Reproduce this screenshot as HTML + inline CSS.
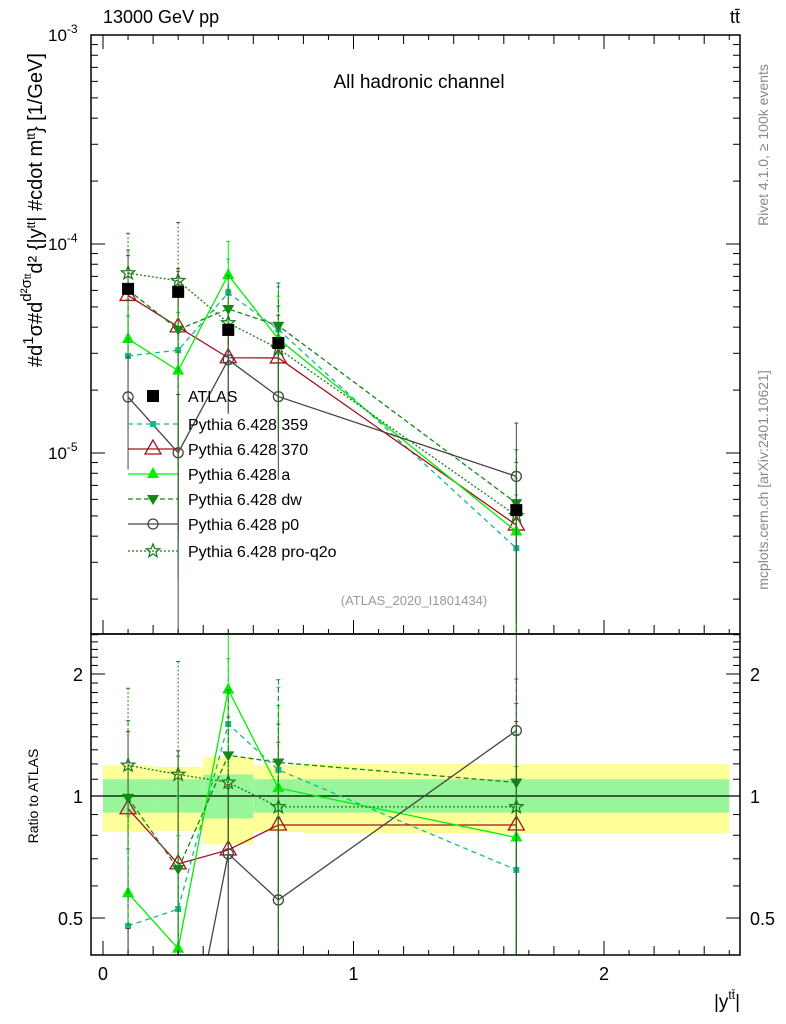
<!DOCTYPE html>
<html><head><meta charset="utf-8">
<style>
html,body{margin:0;background:#fff;overflow:hidden;width:786px;height:1024px;}
svg{display:block;font-family:"Liberation Sans",sans-serif;}
</style></head>
<body>
<svg id="c" width="786" height="1024" viewBox="0 0 786 1024"></svg>
<script>
const xVals=[0.1,0.3,0.5,0.7,1.65];
const binLo=[0,0.2,0.4,0.6,0.8];
const binHi=[0.2,0.4,0.6,0.8,2.5];
const atlas=[6.1e-5,5.9e-5,3.88e-5,3.36e-5,5.33e-6];
const bandYellowUp=[1.19,1.18,1.25,1.19,1.2];
const bandYellowDn=[0.815,0.82,0.76,0.815,0.81];
const bandGreenUp=[1.1,1.1,1.13,1.1,1.1];
const bandGreenDn=[0.91,0.91,0.88,0.91,0.91];
const r359=[0.478,0.526,1.505,1.16,0.657];
const r370=[0.93,0.68,0.736,0.848,0.848];
const rA=[0.576,0.42,1.83,1.046,0.79];
const rDW=[0.99,0.66,1.26,1.21,1.08];
const rP0=[0.304,0.17,0.72,0.554,1.45];
const rQ2O=[1.19,1.13,1.08,0.94,0.94];
const relErr=[0.55,0.9,0.45,0.6,0.8];
const legendLabels=["ATLAS","Pythia 6.428 359","Pythia 6.428 370","Pythia 6.428 a","Pythia 6.428 dw","Pythia 6.428 p0","Pythia 6.428 pro-q2o"];

const NS="http://www.w3.org/2000/svg";
const svg=document.getElementById('c');
function el(t,a,p){const e=document.createElementNS(NS,t);for(const k in a)e.setAttribute(k,a[k]);(p||svg).appendChild(e);return e;}
const L=91,R=740,T=35,M=634,B=955;
const X=v=>103+v*250.5;
const Yt=v=>35-(Math.log10(v)+3)*209;
const Yr=r=>796-Math.log2(r)*122;

const defs=el('defs',{});
const c1=el('clipPath',{id:'ct'},defs);el('rect',{x:L,y:T,width:R-L,height:M-T},c1);
const c2=el('clipPath',{id:'cr'},defs);el('rect',{x:L,y:M,width:R-L,height:B-M},c2);

const bands=el('g',{'clip-path':'url(#cr)'});


for(let i=0;i<xVals.length;i++){
  const y=el('rect',{x:X(binLo[i]),y:Yr(bandYellowUp[i]),width:X(binHi[i])-X(binLo[i]),height:Yr(bandYellowDn[i])-Yr(bandYellowUp[i]),fill:'#ffff99'},bands);
  
  
  const g=el('rect',{x:X(binLo[i]),y:Yr(bandGreenUp[i]),width:X(binHi[i])-X(binLo[i]),height:Yr(bandGreenDn[i])-Yr(bandGreenUp[i]),fill:'#99f599'},bands);
  
  
}
el('line',{x1:L,x2:R,y1:Yr(1),y2:Yr(1),stroke:'#000','stroke-width':1.2});

function marker(g,type,x,y,col){
  const s=0.75;
  if(type==='sq')el('rect',{x:x-4*s,y:y-4*s,width:8*s,height:8*s,fill:col},g);
  else if(type==='bigsq')el('rect',{x:x-6,y:y-6,width:12,height:12,fill:col},g);
  else if(type==='tri')el('polygon',{points:`${x},${y-7} ${x-6},${y+4} ${x+6},${y+4}`,fill:col},g);
  else if(type==='otri')el('polygon',{points:`${x},${y-9} ${x-8},${y+5} ${x+8},${y+5}`,fill:'none',stroke:col,'stroke-width':1.3},g);
  else if(type==='dtri')el('polygon',{points:`${x},${y+6} ${x-6},${y-4} ${x+6},${y-4}`,fill:col},g);
  else if(type==='circ')el('circle',{cx:x,cy:y,r:5,fill:'none',stroke:col,'stroke-width':1.3},g);
  else if(type==='star'){let p=[];for(let k=0;k<10;k++){const a=-Math.PI/2+k*Math.PI/5,rr=k%2?3:7;p.push((x+rr*Math.cos(a)).toFixed(1)+','+(y+rr*Math.sin(a)).toFixed(1));}
    el('polygon',{points:p.join(' '),fill:'none',stroke:col,'stroke-width':1.3},g);}
}
const series=[
 {n:'pythia-359',r:r359,col:'#17b890',dash:'5,4',m:'sq'},
 {n:'pythia-370',r:r370,col:'#a0141e',dash:'',m:'otri'},
 {n:'pythia-a',r:rA,col:'#00f000',dash:'',m:'tri'},
 {n:'pythia-dw',r:rDW,col:'#12891a',dash:'5,3',m:'dtri'},
 {n:'pythia-p0',r:rP0,col:'#454545',dash:'',m:'circ'},
 {n:'pythia-pro-q2o',r:rQ2O,col:'#1b7d1b',dash:'2,2',m:'star'}
];
for(const [ci,Yf,isTop] of [['ct',Yt,true],['cr',Yr,false]]){
  for(const s of series){
    const g=el('g',{'clip-path':`url(#${ci})`});
    
    
    const vals=xVals.map((x,i)=>isTop?atlas[i]*s.r[i]:s.r[i]);
    vals.forEach((v,i)=>{const e=relErr[i];
      el('line',{x1:X(xVals[i]),x2:X(xVals[i]),y1:Yf(v*(1+e)),y2:Yf(Math.max(v*(1-e),1e-9)),stroke:s.col,'stroke-width':1,'stroke-dasharray':s.dash},g);
      el('line',{x1:X(xVals[i])-2,x2:X(xVals[i])+2,y1:Yf(v*(1+e)),y2:Yf(v*(1+e)),stroke:s.col},g);});
    el('polyline',{points:vals.map((v,i)=>X(xVals[i])+','+Yf(v)).join(' '),fill:'none',stroke:s.col,'stroke-width':1.3,'stroke-dasharray':s.dash},g);
    vals.forEach((v,i)=>marker(g,s.m,X(xVals[i]),Yf(v),s.col));
  }
}
const ga=el('g',{'clip-path':'url(#ct)'});


atlas.forEach((v,i)=>{const p=el('rect',{x:X(xVals[i])-6,y:Yt(v)-6,width:12,height:12,fill:'#000'},ga);
  
  });

el('rect',{x:L,y:T,width:R-L,height:M-T,fill:'none',stroke:'#000','stroke-width':1.5});
el('rect',{x:L,y:M,width:R-L,height:B-M,fill:'none',stroke:'#000','stroke-width':1.5});

for(let d=-6;d<=-3;d++)for(let k=1;k<10;k++){const v=k*Math.pow(10,d),y=Yt(v);if(y<T-0.5||y>M)continue;const len=k===1?14:7;
  el('line',{x1:L,x2:L+len,y1:y,y2:y,stroke:'#000'});el('line',{x1:R,x2:R-len,y1:y,y2:y,stroke:'#000'});}
[['-3',-3],['-4',-4],['-5',-5]].forEach(([s,d])=>{const t=el('text',{x:48,y:Yt(Math.pow(10,d))+6,'font-size':17});
  t.innerHTML='10<tspan dy="-8" font-size="12">'+s+'</tspan>';
  
  });
for(let v=0.4;v<2.6;v+=0.1){const y=Yr(v);if(y<M||y>B)continue;const major=[0.5,1,2].some(m=>Math.abs(m-v)<1e-6);const len=major?14:7;
  el('line',{x1:L,x2:L+len,y1:y,y2:y,stroke:'#000'});el('line',{x1:R,x2:R-len,y1:y,y2:y,stroke:'#000'});}
[['0.5',0.5],['1',1],['2',2]].forEach(([s,v])=>{
  const t1=el('text',{x:83,y:Yr(v)+7,'font-size':18,'text-anchor':'end'});t1.textContent=s;
  
  
  const t2=el('text',{x:750,y:Yr(v)+7,'font-size':18});t2.textContent=s;
  
  });
for(let i=0;i<=25;i++){const v=i/10,x=X(v);const len=i%10===0?14:(i%2===0?9:5);
  el('line',{x1:x,x2:x,y1:B,y2:B-len,stroke:'#000'});el('line',{x1:x,x2:x,y1:M,y2:M-len,stroke:'#000'});el('line',{x1:x,x2:x,y1:T,y2:T+len,stroke:'#000'});}
['0','1','2'].forEach((s,i)=>{const t=el('text',{x:X(i),y:980,'font-size':18,'text-anchor':'middle'});t.textContent=s;
  
  });

const lg=el('g',{});


const ly=[396,424,449,474,499,524,551];
legendLabels.forEach((s,i)=>{const y=ly[i];
  const e=el('g',{},lg);
  
  
  if(i===0)marker(e,'bigsq',153,y,'#000');
  else{const sr=series[i-1];el('line',{x1:128,x2:178,y1:y,y2:y,stroke:sr.col,'stroke-width':1.3,'stroke-dasharray':sr.dash},e);marker(e,sr.m,153,y,sr.col);}
  const t=el('text',{x:188,y:y+6,'font-size':16},e);t.textContent=s;});

function txt(x,y,s,attrs,name){const t=el('text',Object.assign({x:x,y:y},attrs));t.innerHTML=s;
  
  return t;}
txt(103,23,'13000 GeV pp',{'font-size':18},'collision-label');
txt(740,23,'tt&#772;',{'font-size':18,'text-anchor':'end'},'process-label');
txt(419,88,'All hadronic channel',{'font-size':19,'text-anchor':'middle'},'plot-title');
txt(414,605,'(ATLAS_2020_I1801434)',{'font-size':13,'text-anchor':'middle',fill:'#999'},'analysis-id');
txt(0,0,'Rivet 4.1.0, ≥ 100k events',{'font-size':14,fill:'#888','text-anchor':'middle',transform:'translate(768,145) rotate(-90)'},'rivet-label');
txt(0,0,'mcplots.cern.ch [arXiv:2401.10621]',{'font-size':14,fill:'#888','text-anchor':'middle',transform:'translate(768,480) rotate(-90)'},'mcplots-label');
txt(0,0,'#d<tspan font-size="15" dy="-9">1</tspan><tspan dy="9">σ</tspan>#d<tspan font-size="15" dy="-11">d²σ<tspan font-size="10">tt</tspan></tspan><tspan dy="11">d² {|y</tspan><tspan font-size="12" dy="-7">tt</tspan><tspan dy="7">| #cdot m</tspan><tspan font-size="12" dy="-7">tt</tspan><tspan dy="7">} [1/GeV]</tspan>',{'font-size':20,'text-anchor':'middle',transform:'translate(42,210) rotate(-90)'},'y-axis-title');
txt(0,0,'Ratio to ATLAS',{'font-size':14,'text-anchor':'middle',transform:'translate(38,796) rotate(-90)'},'ratio-axis-title');
txt(740,1008,'|y<tspan font-size="12" dy="-9">tt&#772;</tspan><tspan dy="9">|</tspan>',{'font-size':19,'text-anchor':'end'},'x-axis-title');
</script>
</body></html>
